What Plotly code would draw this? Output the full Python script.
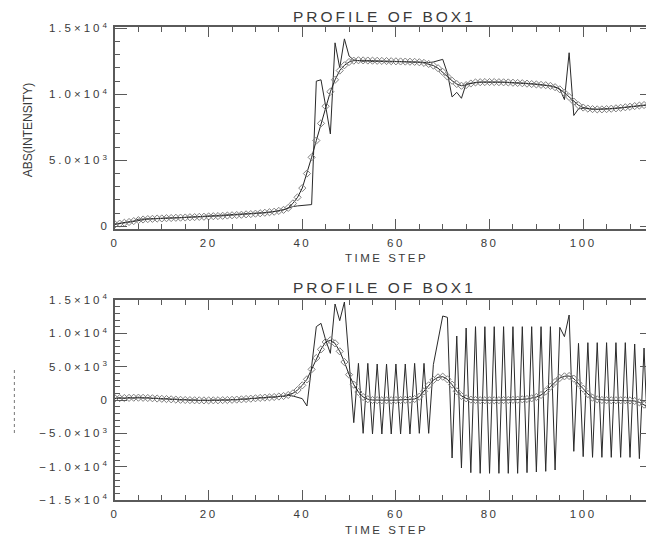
import plotly.graph_objects as go

time_step = list(range(116))

top_raw = [180, 230, 280, 330, 400, 540, 560, 570, 580, 600,
           610, 620, 640, 650, 660, 680, 690, 700, 720, 740,
           760, 770, 790, 810, 830, 850, 870, 890, 920, 940,
           970, 1000, 1040, 1080, 1120, 1180, 1260, 1380, 1500, 1550,
           1580, 1600, 1650, 11000, 11100, 9100, 7000, 13900, 12000, 14200,
           12900, 12600, 12550, 12500, 12520, 12480, 12500, 12470, 12490, 12460,
           12480, 12450, 12470, 12450, 12460, 12440, 12420, 12400, 12450, 12550,
           12650, 11600, 9800, 10150, 9700, 10800, 10850, 10900, 10920, 10930,
           10940, 10930, 10930, 10920, 10910, 10900, 10880, 10860, 10840, 10810,
           10780, 10740, 10700, 10640, 10560, 10400, 9600, 13150, 8400, 8900,
           8950, 8900, 8880, 8870, 8880, 8900, 8920, 8950, 8980, 9020,
           9060, 9100, 9150, 9190, 9220, 9250]

top_smooth = [150, 210, 270, 330, 400, 470, 520, 550, 570, 590,
              600, 620, 630, 650, 660, 670, 690, 700, 720, 730,
              750, 770, 780, 800, 820, 840, 860, 880, 910, 930,
              960, 990, 1030, 1070, 1110, 1170, 1250, 1400, 1740, 2200,
              2900, 4000, 5230, 6500, 7800, 9100, 10200, 11100, 11800, 12200,
              12450, 12550, 12580, 12570, 12560, 12550, 12540, 12530, 12520, 12510,
              12500, 12490, 12480, 12470, 12460, 12430, 12380, 12300, 12180, 11980,
              11700, 11350, 11030, 10780, 10650, 10700, 10820, 10900, 10920, 10930,
              10930, 10930, 10920, 10910, 10900, 10880, 10860, 10840, 10810, 10780,
              10750, 10720, 10690, 10640, 10540, 10380, 10120, 9800, 9450, 9170,
              9000, 8920, 8880, 8860, 8860, 8880, 8910, 8940, 8980, 9020,
              9060, 9110, 9150, 9190, 9220, 9240]

bottom_raw = [200, 350, 250, 380, 300, 420, 300, 340, 220, 260,
              150, 180, 60, 100, 0, 40, -60, 0, -90, -20,
              -100, -10, -80, 20, -40, 70, 20, 150, 100, 250,
              210, 360, 310, 450, 400, 560, 520, 700, 600, 450,
              200, -900, 4800, 11000, 11500, 9000, 7000, 14400, 11900, 14700,
              5800, -3400, 5500, -5000, 5500, -5100, 5400, -5100, 5400, -5100,
              5400, -5100, 5400, -5100, 5500, -5000, 5500, -5000, 5300, 9000,
              12600, 12400, -8700, 9600, -10200, 10800, -10900, 11000, -11000, 11000,
              -11000, 11000, -11000, 11000, -11000, 11000, -11000, 11000, -10900, 11000,
              -10800, 11000, -10700, 11000, -10500, 10900, 9500, 12750, -7700, 8500,
              -8500, 8600, -8600, 8600, -8600, 8600, -8600, 8600, -8600, 8600,
              -8600, 8400, -8800, 7800, -9500, -3000]

bottom_smooth = [250, 280, 300, 320, 340, 350, 330, 300, 260, 220,
                 180, 140, 100, 60, 30, 0, -20, -40, -50, -60,
                 -60, -50, -40, -20, 0, 30, 60, 100, 150, 200,
                 260, 310, 360, 400, 450, 520, 600, 750, 1000, 1500,
                 2200, 3100, 4600, 6300, 7600, 8700, 8950, 8500, 7300, 5700,
                 3800, 2300, 1200, 450, 120, 0, -30, -40, -40, -30,
                 -20, 0, 20, 60, 150, 500, 1300, 2200, 3000, 3400,
                 3500, 3100, 2300, 1300, 600, 250, 60, 0, -30, -40,
                 -40, -40, -30, -20, 0, 20, 50, 100, 150, 250,
                 450, 750, 1300, 2000, 2700, 3300, 3550, 3600, 3200, 2500,
                 1700, 900, 350, 100, 0, -30, -40, -40, -40, -40,
                 -60, -150, -350, -700, -1100, -1500]

x_tickvals = [0, 20, 40, 60, 80, 100]
x_ticktext = ["0", "20", "40", "60", "80", "100"]
top_tickvals = [0, 5000, 10000, 15000]
top_ticktext = ["0", "5.0×10<sup>3</sup>", "1.0×10<sup>4</sup>", "1.5×10<sup>4</sup>"]
bot_tickvals = [-15000, -10000, -5000, 0, 5000, 10000, 15000]
bot_ticktext = ["−1.5×10<sup>4</sup>", "−1.0×10<sup>4</sup>", "−5.0×10<sup>3</sup>", "0",
                "5.0×10<sup>3</sup>", "1.0×10<sup>4</sup>", "1.5×10<sup>4</sup>"]

title_text = "PROFILE OF BOX1"
xlabel_text = "TIME STEP"
ylabel_top = "ABS(INTENSITY)"

INK = "#3a3a3a"
FRAME = "#5a5a5a"
FONT = "Liberation Sans"

# the page body adds an 8 px offset; the figure is sized so that the plot sits where the reference has it
OFF = 8
PAGE_W, PAGE_H = 654, 538
FIG_W, FIG_H = PAGE_W - OFF, PAGE_H - OFF
L_PAGE, R_PAGE, T_PAGE, B_PAGE = 115, 654, 27, 500
plot_w = R_PAGE - L_PAGE
plot_h = B_PAGE - T_PAGE


def spaced(t, px):
    return f"<span style='letter-spacing:{px}px'>{t}</span>"


def px_to_paper(px, py):
    return (px - L_PAGE) / plot_w, (B_PAGE - py) / plot_h


fig = go.Figure()

for yref, raw, smooth in (("y", top_raw, top_smooth), ("y2", bottom_raw, bottom_smooth)):
    xa = "x" if yref == "y" else "x2"
    fig.add_trace(go.Scatter(x=time_step, y=raw, mode="lines",
                             line=dict(color="#2a2a2a", width=1),
                             xaxis=xa, yaxis=yref, showlegend=False))
    fig.add_trace(go.Scatter(x=time_step, y=smooth, mode="lines+markers",
                             line=dict(color="#222222", width=1),
                             marker=dict(symbol="diamond-open", size=5.5,
                                         color="#808080", line=dict(width=1, color="#808080")),
                             xaxis=xa, yaxis=yref, showlegend=False))

axis_common = dict(showgrid=False, zeroline=False, showline=True, linecolor=FRAME,
                   linewidth=1.5, mirror="ticks", ticks="inside", tickcolor=FRAME,
                   tickfont=dict(family=FONT, size=11.5, color=INK))

xaxis_common = dict(range=[0, 114.7], tickvals=x_tickvals,
                    ticktext=[spaced(t, 2.5) for t in x_ticktext],
                    ticklen=10, tickwidth=1, ticklabelstandoff=2,
                    minor=dict(dtick=5, tick0=0, ticklen=5, ticks="inside", tickcolor=FRAME),
                    **axis_common)

fig.update_layout(
    width=FIG_W, height=FIG_H,
    margin=dict(l=L_PAGE - OFF, r=0, t=T_PAGE - OFF, b=FIG_H - (B_PAGE - OFF)),
    paper_bgcolor="white", plot_bgcolor="white",
    xaxis=dict(domain=[0, 1], anchor="y", **xaxis_common),
    yaxis=dict(domain=[(B_PAGE - 229) / plot_h, 1], anchor="x", range=[-200, 15100],
               tickvals=top_tickvals, ticktext=[spaced(t, 3) for t in top_ticktext],
               ticklen=12, tickwidth=1, ticklabelstandoff=1,
               minor=dict(dtick=1000, tick0=0, ticklen=5, ticks="inside", tickcolor=FRAME),
               **axis_common),
    xaxis2=dict(domain=[0, 1], anchor="y2", **xaxis_common),
    yaxis2=dict(domain=[0, (B_PAGE - 300) / plot_h], anchor="x2", range=[-15000, 15000],
                tickvals=bot_tickvals, ticktext=[spaced(t, 3) for t in bot_ticktext],
                ticklen=12, tickwidth=1, ticklabelstandoff=1,
                minor=dict(dtick=1000, tick0=0, ticklen=5, ticks="inside", tickcolor=FRAME),
                **axis_common),
)

ann = []
for ypx in (16.5, 287.5):
    x, y = px_to_paper(386, ypx)
    ann.append(dict(text=spaced(title_text, 3), x=x, y=y,
                    xref="paper", yref="paper", showarrow=False, xanchor="center", yanchor="middle",
                    font=dict(family=FONT, size=15.5, color=INK)))
for ypx in (258, 529.5):
    x, y = px_to_paper(388, ypx)
    ann.append(dict(text=spaced(xlabel_text, 2.5), x=x, y=y,
                    xref="paper", yref="paper", showarrow=False, xanchor="center", yanchor="middle",
                    font=dict(family=FONT, size=11.5, color=INK)))
x, y = px_to_paper(28, 130)
ann.append(dict(text=ylabel_top, x=x, y=y, xref="paper", yref="paper",
                showarrow=False, textangle=-90, xanchor="center", yanchor="middle",
                font=dict(family=FONT, size=12, color=INK)))
fig.update_layout(annotations=ann)

# faint dotted vertical mark where the lower panel's y label sits
x0, y0 = px_to_paper(14, 433)
_, y1 = px_to_paper(14, 370)
fig.add_shape(type="line", xref="paper", yref="paper", x0=x0, x1=x0, y0=y0, y1=y1,
              line=dict(color="#777777", width=1, dash="dot"))

fig.write_html("out.html")
